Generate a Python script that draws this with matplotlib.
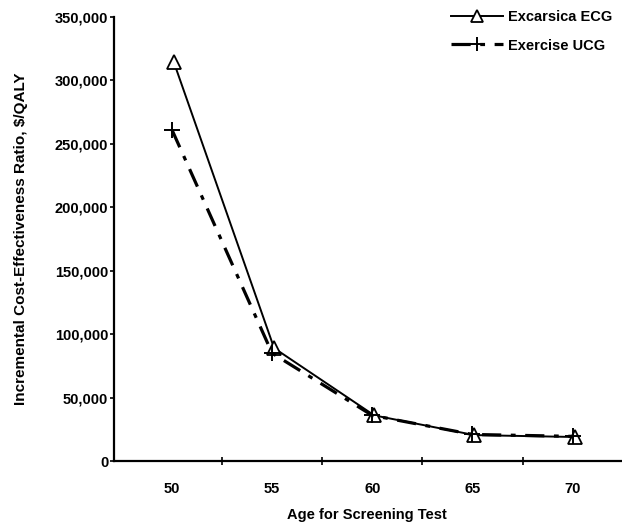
import numpy as np
import matplotlib
matplotlib.use("Agg")
import matplotlib.pyplot as plt
from matplotlib.ticker import FuncFormatter

ages = [50, 55, 60, 65, 70]
ecg = [314000, 89000, 36000, 20500, 19000]
ucg = [261000, 85000, 36000, 21000, 19500]

plt.rcParams.update({"font.family": "Liberation Sans", "font.size": 10.5})

fig = plt.figure(figsize=(6.22, 5.24), dpi=100)
ax = fig.add_axes([0.183, 0.12, 0.815, 0.848])

ax.plot(np.array(ages) + 0.1, ecg, color="black", lw=1.4, marker="^", ms=10,
        mfc="white", mec="black", mew=1.3, label="Excarsica ECG")
ax.plot(ages, ucg, color="black", lw=2.3, ls=(0, (6, 3, 1.5, 3)), marker="+", ms=12,
        mew=1.4, label="Exercise UCG")

ax.set_xlim(47.1, 72.4)
ax.set_ylim(0, 350000)
ax.set_xticks([52.5, 57.5, 62.5, 67.5])
ax.set_xticks(ages, minor=True)
ax.set_xticklabels([])
ax.set_xticklabels([str(a) for a in ages], minor=True, fontweight="bold")
ax.tick_params(axis="x", which="major", direction="inout", length=6, width=1.2)
ax.tick_params(axis="x", which="minor", length=0, pad=15)
ax.set_yticks(np.arange(0, 350001, 50000))
ax.yaxis.set_major_formatter(FuncFormatter(lambda v, p: f"{int(v):,}"))
ax.tick_params(axis="y", direction="out", length=3, width=1.2, pad=1)
for lab in ax.get_yticklabels():
    lab.set_fontweight("bold")

for s in ["top", "right"]:
    ax.spines[s].set_visible(False)
for s in ["left", "bottom"]:
    ax.spines[s].set_linewidth(1.6)

ax.set_xlabel("Age for Screening Test", fontweight="bold", labelpad=9)
ax.set_ylabel("Incremental Cost-Effectiveness Ratio, $/QALY", fontweight="bold",
              fontsize=11, labelpad=19)

ax.legend(loc="upper right", bbox_to_anchor=(1.0, 1.035), frameon=False, handlelength=3.6,
          prop={"weight": "bold", "size": 10.5}, labelspacing=1.0, handletextpad=0.3,
          markerscale=0.8, borderaxespad=0.2)

fig.savefig("out.png", dpi=100)
